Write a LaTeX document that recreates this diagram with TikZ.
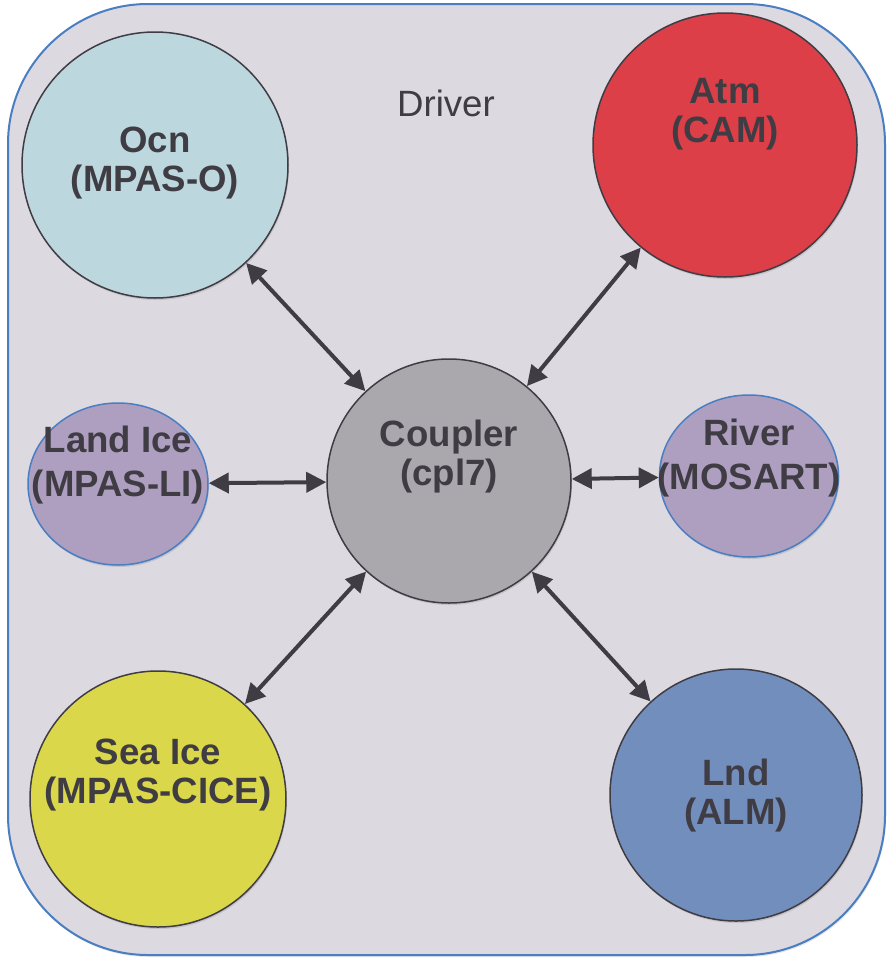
\documentclass[tikz,border=0pt]{standalone}
\usepackage{fontspec}
\setmainfont{Liberation Sans}
\usetikzlibrary{arrows.meta,shapes.geometric,shadows}
\definecolor{bgfill}{HTML}{DCD9E0}
\definecolor{bgline}{HTML}{4A7EC2}
\definecolor{txt}{HTML}{3F3C44}
\definecolor{ocnc}{HTML}{BDD7DF}
\definecolor{atmc}{HTML}{DC3F47}
\definecolor{cplc}{HTML}{AAA7AD}
\definecolor{icec}{HTML}{AE9FC0}
\definecolor{seac}{HTML}{DAD74A}
\definecolor{lndc}{HTML}{728EBD}
\tikzset{
  comp/.style={circle, draw=txt, line width=1.5pt, inner sep=0pt, minimum size=#1,
    drop shadow={shadow xshift=1pt, shadow yshift=-2pt, opacity=0.25}},
  small/.style={ellipse, draw=bgline, line width=1.5pt, inner sep=0pt, minimum width=180pt, minimum height=162pt,
    fill=icec, drop shadow={shadow xshift=1pt, shadow yshift=-2pt, opacity=0.25}},
  lbl/.style={text=txt, align=center, font=\fontsize{36.6}{39}\selectfont\bfseries},
  lblwide/.style={lbl, font=\fontsize{36.6}{44}\selectfont\bfseries},
  link/.style={{Triangle[length=20pt,width=20pt]}-{Triangle[length=20pt,width=20pt]}, line width=4pt, draw=txt}
}
\begin{document}
\begin{tikzpicture}[x=1pt,y=-1pt]
\useasboundingbox (0,0) rectangle (893,967);
\draw[fill=bgfill, draw=bgline, line width=2pt, rounded corners=140pt,
  drop shadow={shadow xshift=1pt, shadow yshift=-2pt, opacity=0.2}] (8,4) rectangle (885,955);
\node[text=txt, font=\fontsize{36.6}{43}\selectfont] (drv) at (446,103) {Driver};

\node[comp=266pt, fill=ocnc] (ocn) at (155,165) {};
\node[comp=264pt, fill=atmc] (atm) at (725,145) {};
\node[comp=244pt, fill=cplc] (cpl) at (449,481) {};
\node[small] (lice) at (118,484) {};
\node[small, minimum width=179pt] (riv) at (749,476) {};
\node[comp=256pt, fill=seac] (sea) at (158,799) {};
\node[comp=252pt, fill=lndc] (lnd) at (736,795) {};

\node[lbl] (tocn) at (155,163) {Ocn\\(MPAS-O)};
\node[lbl] (tatm) at (725,114) {Atm\\(CAM)};
\node[lbl] (tcpl) at (449,457) {Coupler\\(cpl7)};
\node[lblwide] (tlice) at (118,465) {Land Ice\\(MPAS-LI)};
\node[lblwide] (triv) at (749,458) {River\\(MOSART)};
\node[lbl] (tsea) at (158,775) {Sea Ice\\(MPAS-CICE)};
\node[lbl] (tlnd) at (736,796) {Lnd\\(ALM)};

\draw[link] (ocn) -- (cpl);
\draw[link] (atm) -- (cpl);
\draw[link] (lice) -- (cpl);
\draw[link] (riv) -- (cpl);
\draw[link] (sea) -- (cpl);
\draw[link] (lnd) -- (cpl);
\end{tikzpicture}
\end{document}
